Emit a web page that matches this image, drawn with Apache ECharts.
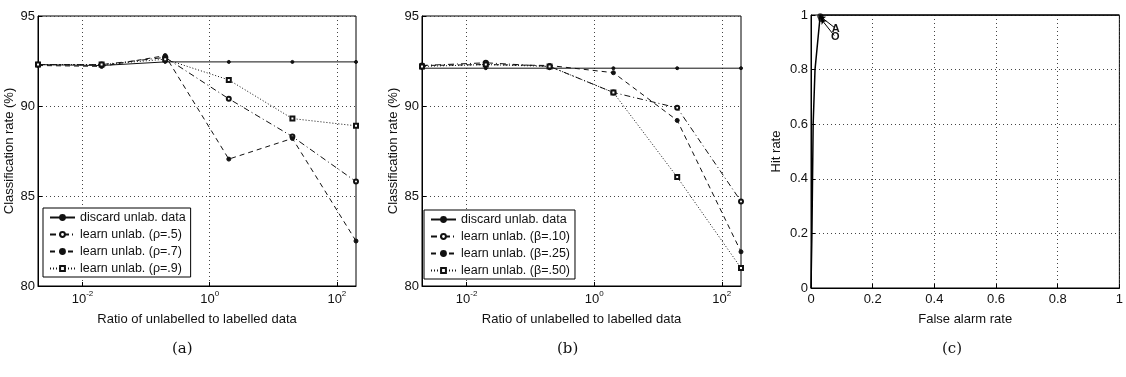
<!DOCTYPE html>
<html>
<head>
<meta charset="utf-8">
<script src="https://cdn.jsdelivr.net/npm/echarts@6/dist/echarts.min.js"></script>
<style>
html, body { margin: 0; padding: 0; background: #fff; }
#main { width: 1126px; height: 377px; }
</style>
</head>
<body>
<div id="main"></div>
<script>
// shared x values (ratio of unlabelled to labelled data)
var ratios = [0.002, 0.02, 0.2, 2, 20, 200];

// panel (a)
var discardA = [92.3, 92.25, 92.45, 92.45, 92.45, 92.45];
var rho5 = [92.3, 92.3, 92.7, 90.4, 88.3, 85.8];
var rho7 = [92.25, 92.2, 92.8, 87.05, 88.2, 82.5];
var rho9 = [92.3, 92.3, 92.6, 91.45, 89.3, 88.9];

// panel (b)
var discardB = [92.1, 92.1, 92.1, 92.1, 92.1, 92.1];
var beta10 = [92.25, 92.4, 92.2, 90.75, 89.9, 84.7];
var beta25 = [92.25, 92.3, 92.25, 91.85, 89.2, 81.9];
var beta50 = [92.2, 92.3, 92.2, 90.75, 86.05, 81.0];

// panel (c) ROC
var falseAlarm = [0, 0.003, 0.007, 0.013, 0.03, 1];
var hitRate = [0, 0.2, 0.6, 0.8, 1, 1];
var opPoints = [[0.03, 0.995], [0.033, 0.985]];
var opNames = ['A', 'O'];
var opLabelAt = [[0.075, 0.955], [0.075, 0.925]];

var logTicks = [0.01, 1, 100];

var FONT = '"Liberation Sans", Arial, sans-serif';
var names = {
    discard: 'discard unlab. data',
    r5: 'learn unlab. (ρ=.5)',
    r7: 'learn unlab. (ρ=.7)',
    r9: 'learn unlab. (ρ=.9)',
    b10: 'learn unlab. (β=.10)',
    b25: 'learn unlab. (β=.25)',
    b50: 'learn unlab. (β=.50)'
};

function pairs(xs, ys) {
    return xs.map(function (x, i) { return [x, ys[i]]; });
}

var styles = {
    solid: {type: 'solid', symbol: 'circle', size: 3},
    dashdot: {type: [6, 3, 1, 3], symbol: 'emptyCircle', size: 4},
    dashed: {type: [5, 4], symbol: 'circle', size: 4},
    dotted: {type: [1, 2], symbol: 'emptyRect', size: 4}
};

function lineSeries(name, idx, ys, st) {
    var s = styles[st];
    return {
        type: 'line',
        name: name,
        xAxisIndex: idx,
        yAxisIndex: idx,
        data: pairs(ratios, ys),
        symbol: s.symbol,
        symbolSize: s.size,
        showAllSymbol: true,
        animation: false,
        lineStyle: {color: '#111', width: 1, type: s.type},
        itemStyle: {color: '#111', borderColor: '#111', borderWidth: 1}
    };
}

function logAxis(idx) {
    return {
        type: 'log',
        gridIndex: idx,
        logBase: 10,
        min: 0.002,
        max: 200,
        name: 'Ratio of unlabelled to labelled data',
        nameLocation: 'middle',
        nameGap: 27,
        nameMoveOverlap: false,
        nameTextStyle: {color: '#111', fontSize: 13, fontFamily: FONT},
        axisLine: {lineStyle: {color: '#000'}},
        axisTick: {inside: true, length: 4, customValues: logTicks, lineStyle: {color: '#000'}},
        axisLabel: {
            customValues: logTicks,
            margin: 4,
            formatter: function (v) {
                return '{b|10}{s|' + Math.round(Math.log10(v)) + '}';
            },
            rich: {
                b: {fontSize: 13, fontFamily: FONT, color: '#111', lineHeight: 18},
                s: {fontSize: 8, fontFamily: FONT, color: '#111', lineHeight: 8, verticalAlign: 'top'}
            }
        },
        splitLine: {show: true, lineStyle: {color: '#444', type: [1, 3], width: 1}}
    };
}

function rateYAxis(idx) {
    return {
        type: 'value',
        gridIndex: idx,
        min: 80,
        max: 95,
        interval: 5,
        name: 'Classification rate (%)',
        nameLocation: 'middle',
        nameGap: 22,
        nameMoveOverlap: false,
        nameTextStyle: {color: '#111', fontSize: 13, fontFamily: FONT},
        axisLine: {show: true, lineStyle: {color: '#000'}},
        axisTick: {show: true, inside: true, length: 4, lineStyle: {color: '#000'}},
        axisLabel: {margin: 3, color: '#111', fontSize: 13, fontFamily: FONT},
        splitLine: {show: true, lineStyle: {color: '#444', type: [1, 3], width: 1}}
    };
}

function legendAt(left, top, data) {
    return {
        orient: 'vertical',
        left: left,
        top: top,
        data: data,
        backgroundColor: '#fff',
        borderColor: '#000',
        borderWidth: 1,
        padding: [3, 5, 2, 6],
        itemGap: 4,
        itemWidth: 25,
        itemHeight: 6,
        selectedMode: false,
        textStyle: {color: '#111', fontSize: 12.5, fontFamily: FONT}
    };
}

var option = {
    animation: false,
    backgroundColor: '#fff',
    grid: [
        {left: 38, top: 16, width: 318, height: 270, show: true, borderColor: '#000', borderWidth: 1},
        {left: 422, top: 16, width: 319, height: 270, show: true, borderColor: '#000', borderWidth: 1},
        {left: 811, top: 15, width: 313, height: 273, show: true, borderColor: '#000', borderWidth: 1}
    ],
    legend: [
        legendAt(43, 208, [names.discard, names.r5, names.r7, names.r9]),
        legendAt(424, 210, [names.discard, names.b10, names.b25, names.b50])
    ],
    xAxis: [
        logAxis(0),
        logAxis(1),
        {
            type: 'value',
            gridIndex: 2,
            min: 0,
            max: 1,
            interval: 0.2,
            name: 'False alarm rate',
            nameLocation: 'middle',
            nameGap: 25,
            nameMoveOverlap: false,
            nameTextStyle: {color: '#111', fontSize: 13, fontFamily: FONT},
            axisLine: {lineStyle: {color: '#000'}},
            axisTick: {inside: true, length: 4, lineStyle: {color: '#000'}},
            axisLabel: {margin: 5, color: '#111', fontSize: 13, fontFamily: FONT},
            splitLine: {show: true, lineStyle: {color: '#444', type: [1, 3], width: 1}}
        }
    ],
    yAxis: [
        rateYAxis(0),
        rateYAxis(1),
        {
            type: 'value',
            gridIndex: 2,
            min: 0,
            max: 1,
            interval: 0.2,
            name: 'Hit rate',
            nameLocation: 'middle',
            nameGap: 28,
            nameMoveOverlap: false,
            nameTextStyle: {color: '#111', fontSize: 13, fontFamily: FONT},
            axisLine: {show: true, lineStyle: {color: '#000'}},
            axisTick: {show: true, inside: true, length: 4, lineStyle: {color: '#000'}},
            axisLabel: {margin: 3, color: '#111', fontSize: 13, fontFamily: FONT},
            splitLine: {show: true, lineStyle: {color: '#444', type: [1, 3], width: 1}}
        }
    ],
    graphic: [
        {type: 'text', left: 172, top: 342, style: {text: '(a)', font: '15px "DejaVu Serif", serif', fill: '#111'}},
        {type: 'text', left: 557, top: 342, style: {text: '(b)', font: '15px "DejaVu Serif", serif', fill: '#111'}},
        {type: 'text', left: 942, top: 342, style: {text: '(c)', font: '15px "DejaVu Serif", serif', fill: '#111'}}
    ],
    series: [
        lineSeries(names.discard, 0, discardA, 'solid'),
        lineSeries(names.r5, 0, rho5, 'dashdot'),
        lineSeries(names.r7, 0, rho7, 'dashed'),
        lineSeries(names.r9, 0, rho9, 'dotted'),
        lineSeries(names.discard, 1, discardB, 'solid'),
        lineSeries(names.b10, 1, beta10, 'dashdot'),
        lineSeries(names.b25, 1, beta25, 'dashed'),
        lineSeries(names.b50, 1, beta50, 'dotted'),
        {
            type: 'line',
            name: 'ROC',
            xAxisIndex: 2,
            yAxisIndex: 2,
            data: pairs(falseAlarm, hitRate),
            symbol: 'none',
            lineStyle: {color: '#000', width: 1.5},
            markLine: {
                silent: true,
                symbol: ['none', 'arrow'],
                symbolSize: 5,
                lineStyle: {color: '#000', width: 1, type: 'solid'},
                label: {
                    show: true,
                    position: 'start',
                    distance: 2,
                    color: '#111',
                    fontSize: 11,
                    fontWeight: 'bold',
                    fontFamily: FONT,
                    formatter: function (p) { return p.name; }
                },
                data: opNames.map(function (n, i) {
                    return [{name: n, coord: opLabelAt[i]}, {coord: opPoints[i]}];
                })
            }
        },
        {
            type: 'scatter',
            name: 'operating points',
            xAxisIndex: 2,
            yAxisIndex: 2,
            data: opPoints,
            symbol: 'circle',
            symbolSize: 6,
            itemStyle: {color: '#111'}
        }
    ]
};

var myChart = echarts.init(document.getElementById('main'));
myChart.setOption(option);
</script>
</body>
</html>
